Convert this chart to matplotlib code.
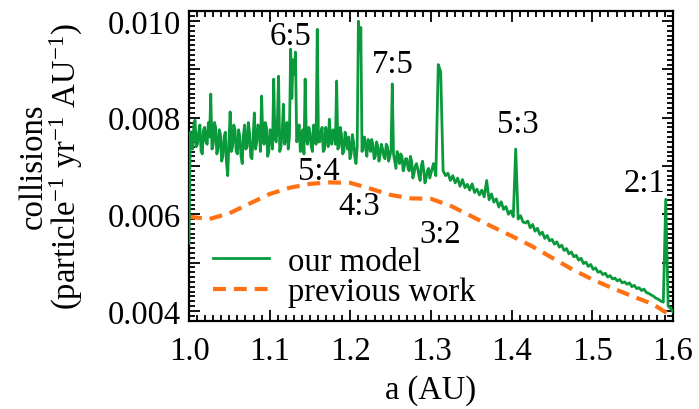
'''
Collision rate versus semi-major axis: our model against previous work.
'''

import numpy as npy
import matplotlib.pyplot as plt
from matplotlib.ticker import MultipleLocator, FuncFormatter

# previous work (smooth curve), collisions in units of 1e-3
a_prev = [1.000, 1.025, 1.050, 1.075, 1.100, 1.125, 1.150, 1.175, 1.200, 1.225,
          1.250, 1.275, 1.300, 1.325, 1.350, 1.375, 1.400, 1.425, 1.450, 1.475,
          1.500, 1.525, 1.550, 1.575, 1.600]
coll_prev_e3 = [5.95, 5.90, 6.02, 6.22, 6.42, 6.55, 6.63, 6.66, 6.65, 6.53,
                6.40, 6.33, 6.32, 6.17, 5.96, 5.75, 5.55, 5.34, 5.10, 4.86,
                4.65, 4.47, 4.30, 4.14, 3.87]

# our model, sampled every 0.003 AU from 1.000 AU, units of 1e-3
coll_model_e3 = [
    5.40, 7.55, 7.85, 7.40, 7.70, 7.30, 7.75, 7.50, 7.90, 8.49,   # 1.000
    7.45, 7.80, 7.35, 7.65, 7.20, 7.70, 6.80, 8.12, 7.40, 7.75,   # 1.030
    7.25, 7.60, 7.05, 7.85, 7.40, 7.70, 7.15, 8.10, 7.50, 7.80,   # 1.060
    8.45, 7.45, 7.80, 7.30, 7.65, 8.80, 7.50, 8.86, 7.40, 8.28,   # 1.090
    7.55, 7.35, 9.42, 9.20, 9.36, 7.60, 7.30, 7.75, 8.80, 7.45,   # 1.120
    7.70, 7.30, 7.60, 9.83, 7.50, 7.80, 7.35, 7.65, 7.97, 7.45,   # 1.150
    7.70, 8.76, 7.40, 7.65, 7.30, 7.55, 7.60, 7.25, 7.50, 7.05,   # 1.180
    10.00, 9.87, 7.50, 7.35, 7.55, 7.30, 7.45, 7.20, 7.40, 7.25,  # 1.210
    7.35, 7.15, 7.40, 7.20, 8.70, 7.10, 7.30, 7.05, 7.20, 7.00,   # 1.240
    7.15, 6.90, 7.10, 6.85, 7.05, 6.80, 7.00, 6.90, 6.75, 6.95,   # 1.270
    6.85, 7.05, 6.80, 9.10, 8.95, 6.90, 6.80, 6.85, 6.70, 6.80,   # 1.300
    6.65, 6.75, 6.58, 6.72, 6.55, 6.62, 6.50, 6.63, 6.45, 6.52,   # 1.330
    6.40, 6.50, 6.36, 6.70, 6.30, 6.42, 6.25, 6.32, 6.15, 6.26,   # 1.360
    6.10, 6.16, 6.00, 6.07, 5.95, 7.35, 5.90, 5.97, 5.84, 5.82,   # 1.390
    5.86, 5.72, 5.79, 5.65, 5.71, 5.58, 5.63, 5.50, 5.56, 5.45,   # 1.420
    5.48, 5.38, 5.43, 5.32, 5.36, 5.25, 5.29, 5.18, 5.22, 5.12,   # 1.450
    5.15, 5.05, 5.09, 4.98, 5.01, 4.92, 4.96, 4.86, 4.89, 4.80,   # 1.480
    4.82, 4.75, 4.78, 4.70, 4.73, 4.66, 4.68, 4.62, 4.65, 4.58,   # 1.510
    4.60, 4.55, 4.58, 4.50, 4.53, 4.46, 4.48, 4.42, 4.45, 4.38,   # 1.540
    4.36, 4.33, 4.30, 4.26, 4.24, 4.20, 4.18, 6.31, 4.10, 4.05,   # 1.570
    3.98,                                                          # 1.600
]
# extra samples half way between the first 100 points above (1.0015 ... 1.2985),
# where the model is noisiest
coll_model_mid_e3 = [
    7.70, 7.35, 7.95, 7.45, 7.85, 7.25, 7.80, 7.45, 7.60, 7.35,   # 1.0015
    7.90, 7.25, 7.75, 7.10, 7.60, 7.05, 7.50, 7.30, 7.85, 7.30,   # 1.0315
    7.75, 7.20, 7.65, 7.35, 7.90, 7.20, 7.60, 7.35, 7.85, 7.30,   # 1.0615
    7.60, 7.90, 7.20, 7.75, 7.35, 7.60, 7.85, 7.30, 7.70, 7.45,   # 1.0915
    7.90, 7.60, 8.40, 8.90, 7.50, 7.85, 7.65, 7.25, 7.55, 7.80,   # 1.1215
    7.40, 7.85, 7.45, 7.50, 7.70, 7.30, 7.80, 7.40, 7.55, 7.75,   # 1.1515
    7.45, 7.35, 7.80, 7.25, 7.70, 7.35, 7.15, 7.65, 7.20, 7.40,   # 1.1815
    9.40, 7.30, 7.60, 7.20, 7.45, 7.55, 7.15, 7.50, 7.10, 7.45,   # 1.2115
    7.20, 7.45, 7.10, 7.35, 7.25, 6.95, 7.20, 7.25, 6.90, 7.15,   # 1.2415
    6.95, 7.20, 6.75, 7.00, 6.95, 6.70, 7.10, 6.65, 6.90, 6.75,   # 1.2715
]
a_model = npy.round(1.0 + 0.003 * npy.arange(len(coll_model_e3)), 4)
a_mid = npy.round(1.0015 + 0.003 * npy.arange(len(coll_model_mid_e3)), 4)

a_all = npy.concatenate([a_model, a_mid])
coll_all = npy.concatenate([coll_model_e3, coll_model_mid_e3]) * 1e-3
order = npy.argsort(a_all)

# resonance labels: text, a (AU), collisions (baseline of the text)
res_labels = ['6:5', '7:5', '5:4', '4:3', '3:2', '5:3', '2:1']
res_a = [1.126, 1.253, 1.161, 1.211, 1.312, 1.408, 1.565]
res_y = [0.00952, 0.00894, 0.00673, 0.00601, 0.00542, 0.00770, 0.00649]

plt.rcParams['font.family'] = ['Liberation Serif', 'DejaVu Serif']
plt.rcParams['mathtext.fontset'] = 'custom'
plt.rcParams['mathtext.rm'] = 'Liberation Serif'
plt.rcParams['mathtext.it'] = 'Liberation Serif:italic'
fs = 23.5

green = '#0a9a3c'
orange = '#ff7214'

fig = plt.figure(figsize=(6.99, 4.10), dpi=100)
ax = fig.add_axes([189 / 699, 1 - 321.5 / 410, 484 / 699, 309.5 / 410])

ax.plot(a_all[order], coll_all[order], color=green, lw=2.0,
        label='our model', zorder=3)
ax.plot(a_prev, npy.array(coll_prev_e3) * 1e-3, color=orange, lw=3.0,
        linestyle=(0, (3.1, 1.9)), label='previous work', zorder=2)

for txt, xa, ya in zip(res_labels, res_a, res_y):
    ax.text(xa, ya, txt, ha='center', va='baseline', fontsize=fs)

ax.set_xlim(1.0, 1.6)
ax.set_ylim(0.0038, 0.01021)

# IDL-like axes: inward ticks on all four sides
ax.xaxis.set_major_locator(MultipleLocator(0.1))
ax.xaxis.set_minor_locator(MultipleLocator(0.01))
ax.xaxis.set_major_formatter(FuncFormatter(lambda v, p: '%.1f' % v))
ax.yaxis.set_major_locator(MultipleLocator(0.001))
ax.yaxis.set_minor_locator(MultipleLocator(0.0001))
ax.yaxis.set_major_formatter(FuncFormatter(
    lambda v, p: '%.3f' % v if round(v * 1000) % 2 == 0 else ''))
ax.tick_params(which='both', direction='in', top=True, right=True,
               labelsize=fs, width=1.3)
ax.tick_params(which='major', length=8)
ax.tick_params(which='minor', length=4)
ax.tick_params(axis='x', pad=11)
ax.tick_params(axis='y', pad=6)
for sp in ax.spines.values():
    sp.set_linewidth(1.6)

ax.set_xlabel('a (AU)', fontsize=fs, labelpad=6)
ax.set_ylabel('collisions\n(particle$^{-1}$ yr$^{-1}$ AU$^{-1}$)', fontsize=fs,
              linespacing=1.0)
ax.yaxis.set_label_coords(-0.214, 0.5)

ax.legend(loc='center left', bbox_to_anchor=(0.05, 0.142), frameon=False,
          fontsize=fs, handlelength=1.7, handletextpad=0.6, labelspacing=0.0,
          borderpad=0, borderaxespad=0)

plt.savefig('out.png', dpi=100)
